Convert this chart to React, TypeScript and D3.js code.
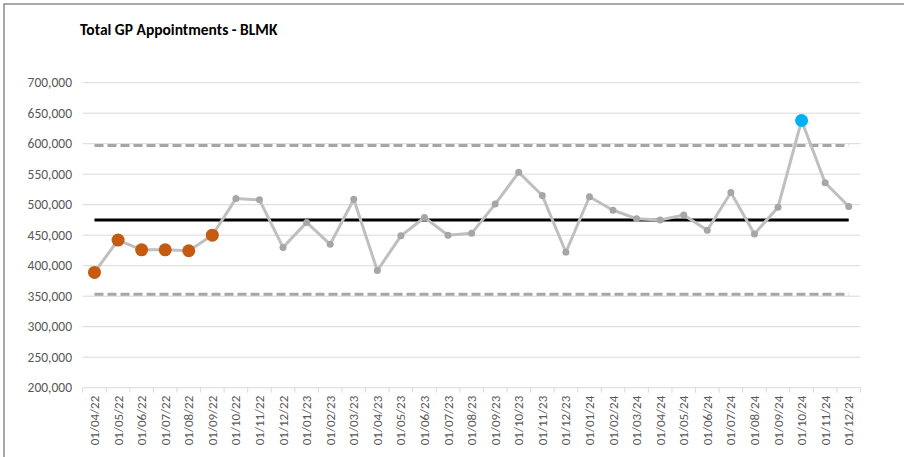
import React from "react";
import * as d3 from "d3";

const months: string[] = [
  "01/04/22","01/05/22","01/06/22","01/07/22","01/08/22","01/09/22","01/10/22","01/11/22","01/12/22",
  "01/01/23","01/02/23","01/03/23","01/04/23","01/05/23","01/06/23","01/07/23","01/08/23","01/09/23",
  "01/10/23","01/11/23","01/12/23","01/01/24","01/02/24","01/03/24","01/04/24","01/05/24","01/06/24",
  "01/07/24","01/08/24","01/09/24","01/10/24","01/11/24","01/12/24",
];
const appointments: number[] = [
  389000, 442000, 426000, 426000, 424500, 450000, 510000, 508000, 430000,
  471000, 435000, 509000, 392000, 449000, 479000, 450000, 453000, 501000,
  553000, 515000, 422000, 513000, 491000, 477000, 475000, 483000, 458000,
  520000, 452000, 496000, 638000, 536000, 497000,
];
// special-cause flags: "low" = run below mean, "high" = above upper limit
const flags: string[] = [
  "low","low","low","low","low","low","","","",
  "","","","","","","","","",
  "","","","","","","","","",
  "","","","high","","",
];
const meanValue = 475000;
const upperLimit = 597000;
const lowerLimit = 353000;
const yTicks: number[] = [200000, 250000, 300000, 350000, 400000, 450000, 500000, 550000, 600000, 650000, 700000];

const W = 904, H = 457;
const left = 82.7, right = 860.5, top = 82.7, bottom = 387.7;

export default function App() {
  const x = d3.scaleBand<string>().domain(months).range([left, right]).padding(0);
  const y = d3.scaleLinear().domain([200000, 700000]).range([bottom, top]);
  const cx = (m: string) => (x(m) as number) + x.bandwidth() / 2;
  const fmt = d3.format(",");
  const line = d3.line<number>().x((_, i) => cx(months[i])).y((d) => y(d));
  const x0 = cx(months[0]);
  const x1 = cx(months[months.length - 1]);
  const font = "Calibri, Carlito, 'Liberation Sans', Arial, sans-serif";

  return (
    <svg width={W} height={H} style={{ position: "absolute", left: 0, top: 0, background: "#fff" }} fontFamily={font}>
      <rect x={4} y={4} width={W + 10} height={H + 10} fill="#fff" stroke="#8c8c8c" strokeWidth={1.5} />
      <text x={80} y={35} fontSize={15.5} fontWeight="bold" fill="#000">Total GP Appointments - BLMK</text>
      {yTicks.map((t) => (
        <g key={t}>
          {t > 200000 && <line x1={left} x2={right} y1={y(t)} y2={y(t)} stroke="#d9d9d9" strokeWidth={1} />}
          <text x={72} y={y(t)} dy="0.35em" textAnchor="end" fontSize={13.5} fill="#595959">{fmt(t)}</text>
        </g>
      ))}
      <line x1={left} x2={right} y1={bottom} y2={bottom} stroke="#d9d9d9" strokeWidth={1} />
      {months.map((m) => (
        <line key={"t" + m} x1={x(m) as number} x2={x(m) as number} y1={bottom} y2={bottom + 5} stroke="#d9d9d9" />
      ))}
      <line x1={right} x2={right} y1={bottom} y2={bottom + 5} stroke="#d9d9d9" />
      {months.map((m) => (
        <text key={"l" + m} transform={`translate(${cx(m) + 4.5},${bottom + 8}) rotate(-90)`} textAnchor="end" fontSize={13} fill="#595959">{m}</text>
      ))}
      <line x1={x0} x2={x1} y1={y(upperLimit)} y2={y(upperLimit)} stroke="#a6a6a6" strokeWidth={3} strokeDasharray="9,4" />
      <line x1={x0} x2={x1} y1={y(lowerLimit)} y2={y(lowerLimit)} stroke="#a6a6a6" strokeWidth={3} strokeDasharray="9,4" />
      <line x1={x0} x2={x1} y1={y(meanValue)} y2={y(meanValue)} stroke="#000" strokeWidth={3} />
      <path d={line(appointments) || ""} fill="none" stroke="#bfbfbf" strokeWidth={3} strokeLinejoin="round" />
      {appointments.map((v, i) => {
        const f = flags[i];
        const fill = f === "low" ? "#c55a11" : f === "high" ? "#00b0f0" : "#a6a6a6";
        const r = f ? 6.5 : 3.5;
        return <circle key={"c" + i} cx={cx(months[i])} cy={y(v)} r={r} fill={fill} />;
      })}
    </svg>
  );
}
